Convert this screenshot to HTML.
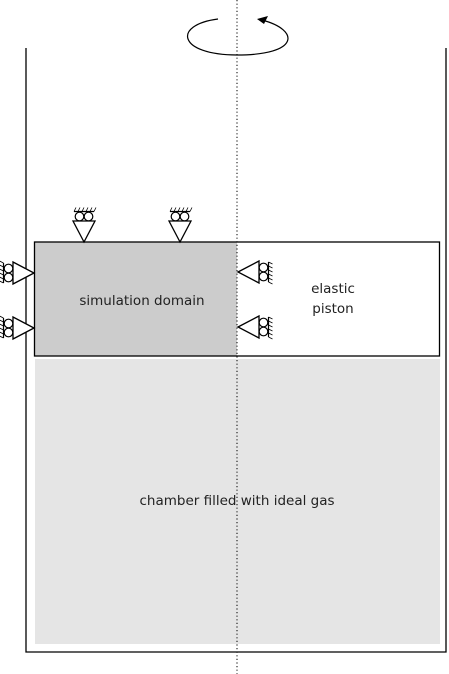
<!DOCTYPE html>
<html><head><meta charset="utf-8"><style>
html,body{margin:0;padding:0;background:#fff;width:449px;height:674px;overflow:hidden}
svg{display:block}
text{font-family:"DejaVu Sans","Liberation Sans",sans-serif;font-size:13.5px;fill:#222}
</style></head><body>
<svg width="449" height="674" viewBox="0 0 449 674">
<defs>
<g id="sup">
<path d="M0,0 L-11,-21 L11,-21 Z" fill="#fff" stroke="#000" stroke-width="1.3"/>
<circle cx="-4.5" cy="-25.5" r="4.3" fill="#fff" stroke="#000" stroke-width="1.2"/>
<circle cx="4.5" cy="-25.5" r="4.3" fill="#fff" stroke="#000" stroke-width="1.2"/>
<line x1="-10" y1="-30.5" x2="10" y2="-30.5" stroke="#000" stroke-width="1.2"/>
<path d="M-10,-30.5 l2,-4 M-6,-30.5 l2,-4 M-2,-30.5 l2,-4 M2,-30.5 l2,-4 M6,-30.5 l2,-4 M10,-30.5 l2,-4" stroke="#000" stroke-width="0.8"/>
</g>
</defs>
<rect x="35" y="359" width="405" height="285" fill="#e5e5e5"/>
<path d="M26,48 V652 H446 V48" fill="none" stroke="#000" stroke-width="1.3"/>
<rect x="35" y="242.5" width="202" height="113" fill="#cccccc"/>
<rect x="34.5" y="242" width="405" height="114" fill="none" stroke="#000" stroke-width="1.3"/>
<line x1="237" y1="0" x2="237" y2="674" stroke="#000" stroke-width="1" stroke-dasharray="1.2,2.4"/>
<g>
<path d="M218,19 C172,25 178,55 237,55 C300,55 300,30 262,20" fill="none" stroke="#000" stroke-width="1.2"/>
<path d="M257,19 L268,16 L264,24 Z" fill="#000"/>
</g>
<use href="#sup" transform="translate(84,242)"/>
<use href="#sup" transform="translate(180,242)"/>
<use href="#sup" transform="translate(34,273) rotate(-90)"/>
<use href="#sup" transform="translate(34,328) rotate(-90)"/>
<use href="#sup" transform="translate(238,272) rotate(90)"/>
<use href="#sup" transform="translate(238,327) rotate(90)"/>
<text x="142" y="305" text-anchor="middle">simulation domain</text>
<text x="333" y="293" text-anchor="middle">elastic</text>
<text x="333" y="313" text-anchor="middle">piston</text>
<text x="237" y="505" text-anchor="middle">chamber filled with ideal gas</text>
</svg>
</body></html>
